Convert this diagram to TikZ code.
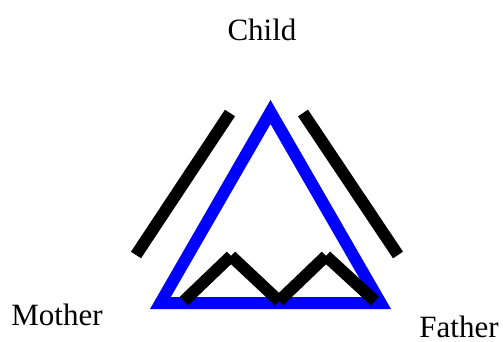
\documentclass[tikz,border=0pt]{standalone}
\usepackage{fontspec}
\setmainfont{Liberation Serif}
\begin{document}
\begin{tikzpicture}[x=1pt,y=-1pt,
  tri/.style={draw=blue,line width=12pt,miter limit=10},
  bar/.style={draw=black,line width=12pt,line cap=butt},
  lbl/.style={font=\fontsize{31}{36}\selectfont,inner sep=0pt,anchor=base}]
\useasboundingbox (0,0) rectangle (503,342);
\coordinate (apex) at (270.5,112);
\coordinate (bl) at (160.4,303);
\coordinate (br) at (380.6,303);
\draw[tri] (apex) -- (bl) -- (br) -- cycle;
\coordinate (l1) at (136,255); \coordinate (l2) at (230,113);
\coordinate (r1) at (303,113); \coordinate (r2) at (398,255);
\draw[bar] (l1) -- (l2);
\draw[bar] (r1) -- (r2);
\coordinate (z1) at (184,301); \coordinate (z2) at (231,256);
\coordinate (z3) at (279,301); \coordinate (z4) at (326,256);
\coordinate (z5) at (375,301);
\draw[bar] (z1) -- (z2);
\draw[bar] (z2) -- (z3);
\draw[bar] (z3) -- (z4);
\draw[bar] (z4) -- (z5);
\node[lbl] (child) at (262,41) {Child};
\node[lbl] (mother) at (57,325) {Mother};
\node[lbl] (father) at (459,337) {Father};
\end{tikzpicture}
\end{document}
